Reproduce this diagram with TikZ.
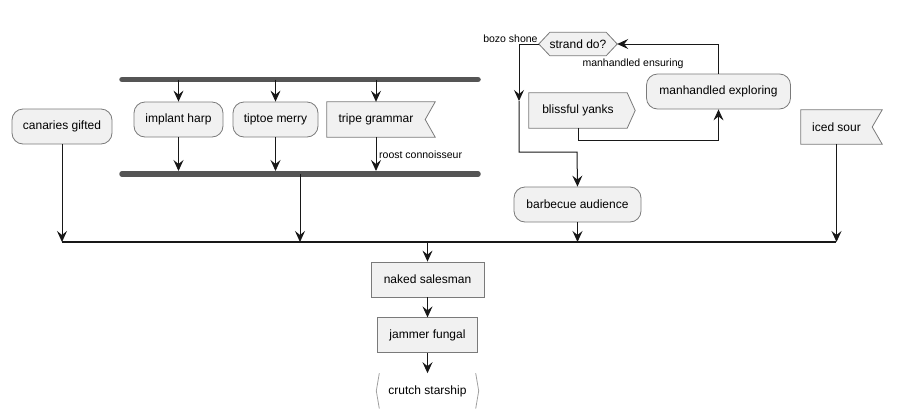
\documentclass[tikz,border=0pt]{standalone}
\usepackage{fontspec}
\setmainfont{Liberation Sans}
\usetikzlibrary{shapes,arrows.meta,positioning,backgrounds,calc}
\definecolor{boxfill}{HTML}{F1F1F1}
\definecolor{boxdraw}{HTML}{7A7A7A}
\definecolor{linecol}{HTML}{181818}
\definecolor{barfill}{HTML}{555555}
\definecolor{endline}{HTML}{A0A0A0}
\tikzset{
  actbox/.style={draw=boxdraw,line width=0.8pt,fill=boxfill,rounded corners=11pt,minimum height=35pt,inner sep=0pt,font=\fontsize{12}{14}\selectfont},
  sqbox/.style={actbox,sharp corners},
  shapetxt/.style={minimum height=35pt,inner sep=0pt,font=\fontsize{12}{14}\selectfont},
  outline/.style={draw=boxdraw,line width=0.8pt,fill=boxfill},
  flow/.style={draw=linecol,line width=1pt,-{Stealth[length=11pt,width=10pt,inset=4pt]}},
  plain/.style={draw=linecol,line width=1.2pt},
  lbl/.style={font=\fontsize{10.5}{12}\selectfont,inner sep=1pt},
  bar/.style={draw=barfill,line width=5.5pt,line cap=round}
}
\begin{document}
\begin{tikzpicture}[x=1pt,y=-1pt]
\useasboundingbox (0,0) rectangle (902,418);
% fork and join bars
\coordinate (fkL) at (122,79.5);
\coordinate (fkR) at (478,79.5);
\coordinate (jnL) at (122,174);
\coordinate (jnR) at (478,174);
\coordinate (jnM) at (300,174);
\coordinate (mgL) at (62,242);
\coordinate (mgR) at (836,242);
\draw[bar] (fkL) -- (fkR);
\draw[bar] (jnL) -- (jnR);
% left part
\node[actbox,minimum width=100pt] (cg) at (62,126.5) {canaries gifted};
\node[actbox,minimum width=89pt] (ih) at (178.5,119.5) {implant harp};
\node[actbox,minimum width=85pt] (tm) at (275.5,119.5) {tiptoe merry};
\node[shapetxt,minimum width=98pt] (tg) at (376,119.5) {tripe grammar};
% right part
\node[shapetxt,minimum width=78pt,minimum height=23pt] (sd) at (578,44) {strand do?};
\node[shapetxt,minimum width=98pt] (by) at (578,110.5) {blissful yanks};
\node[actbox,minimum width=144pt] (me) at (718.5,91.5) {manhandled exploring};
\node[actbox,minimum width=127pt] (bb) at (577.5,204.5) {barbecue audience};
\node[shapetxt,minimum width=71pt,minimum height=34pt] (is) at (836.5,127) {iced sour};
% bottom chain
\node[sqbox,minimum width=113pt] (ns) at (427.5,279.5) {naked salesman};
\node[sqbox,minimum width=100pt,below=20pt of ns] (jf) {jammer fungal};
\node[shapetxt,minimum width=102pt,below=20pt of jf] (cs) {crutch starship};
% outlines
\begin{scope}[on background layer]
  \draw[outline] (tg.north west) -- ([xshift=10pt]tg.north east) -- (tg.east)
    -- ([xshift=10pt]tg.south east) -- (tg.south west) -- cycle;
  \draw[outline] (is.north west) -- ([xshift=10pt]is.north east) -- (is.east)
    -- ([xshift=10pt]is.south east) -- (is.south west) -- cycle;
  \draw[outline] (by.north west) -- (by.north east) -- ([xshift=8pt]by.east)
    -- (by.south east) -- (by.south west) -- cycle;
  \draw[outline] (sd.west) -- ([xshift=11pt]sd.north west) -- ([xshift=-11pt]sd.north east)
    -- (sd.east) -- ([xshift=-11pt]sd.south east) -- ([xshift=11pt]sd.south west) -- cycle;
  \draw[endline,line width=0.8pt] ([xshift=3pt]cs.north west) -- (cs.west) -- ([xshift=3pt]cs.south west);
  \draw[endline,line width=0.8pt] ([xshift=-3pt]cs.north east) -- (cs.east) -- ([xshift=-3pt]cs.south east);
\end{scope}
% labels
\node[lbl,anchor=south east] (bzl) at (sd.west) {bozo shone};
\node[lbl] (mel) at (633,63.5) {manhandled ensuring};
\node[lbl,anchor=west] (rcl) at (378,155) {roost connoisseur};
% fork connectors
\draw[flow] (ih.north |- fkL) -- (ih.north);
\draw[flow] (tm.north |- fkL) -- (tm.north);
\draw[flow] (tg.north |- fkL) -- (tg.north);
\draw[flow] (ih.south) -- ($(ih.south |- jnL)+(0,-3)$);
\draw[flow] (tm.south) -- ($(tm.south |- jnL)+(0,-3)$);
\draw[flow] (tg.south) -- ($(tg.south |- jnL)+(0,-3)$);
\draw[flow] (jnM) -- (jnM |- mgL);
% loop
\coordinate (k1) at (519,101);
\coordinate (k2) at (577,152);
\draw[flow] (sd.west) -| (k1);
\draw[flow] (k1) |- (k2) -- (bb.north);
\draw[flow] (by.south) |- ($(me.south)+(0,31)$) -- (me.south);
\draw[flow] (me.north) |- (sd.east);
% merge
\draw[flow] (cg.south) -- (cg.south |- mgL);
\draw[flow] (bb.south) -- (bb.south |- mgL);
\draw[flow] (is.south) -- (is.south |- mgL);
\draw[plain] (mgL) -- (mgR);
\draw[flow] (ns.north |- mgL) -- (ns.north);
\draw[flow] (ns) -- (jf);
\draw[flow] (jf) -- (cs);
\end{tikzpicture}
\end{document}
